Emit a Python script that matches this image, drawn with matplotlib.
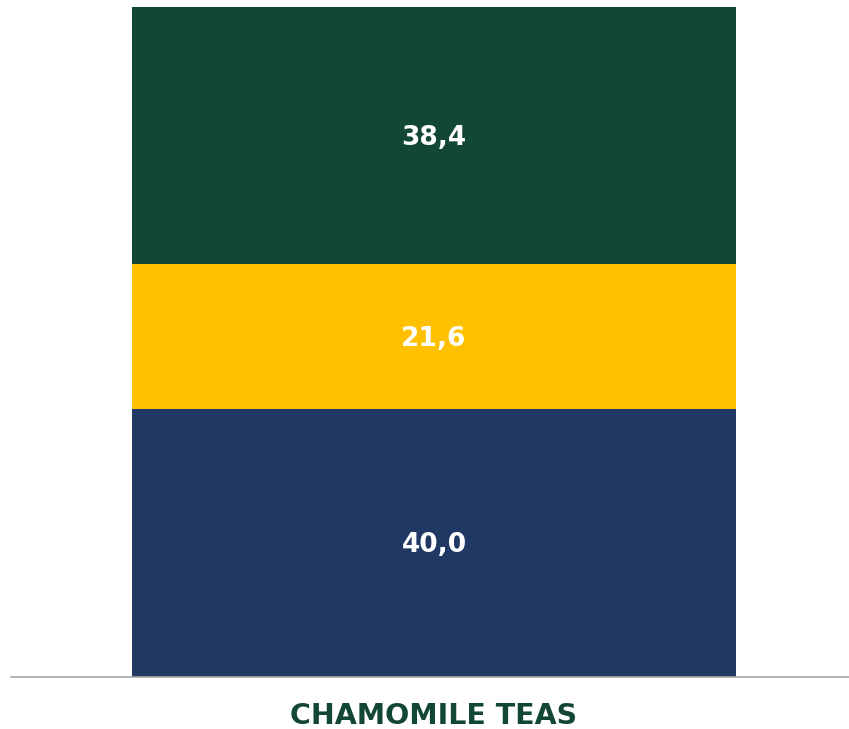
import matplotlib.pyplot as plt

categories = ['CHAMOMILE TEAS']
series_names = ['bottom', 'middle', 'top']
values_bottom = [40.0]
values_middle = [21.6]
values_top = [38.4]
colors = ['#203864', '#FFC000', '#124734']

fig = plt.figure(figsize=(8.49, 7.29), dpi=100)
ax = fig.add_axes([11/849, 52/729, 838/849, 670/729])

base = [0.0] * len(categories)
for vals, col in zip([values_bottom, values_middle, values_top], colors):
    bars = ax.bar(range(len(categories)), vals, bottom=base, width=1.0, color=col, linewidth=0)
    for b, v, s in zip(bars, vals, base):
        ax.text(b.get_x() + b.get_width() / 2, s + v / 2 - 0.3, f'{v:.1f}'.replace('.', ','),
                ha='center', va='center', color='white', fontsize=19,
                fontweight='bold', family='DejaVu Sans')
    base = [s + v for s, v in zip(base, vals)]

ax.set_xlim(-0.7003, 0.6871)
ax.set_ylim(0, 100)
ax.set_xticks(range(len(categories)))
ax.set_xticklabels(categories, fontsize=20.5, fontweight='bold', family='DejaVu Sans', color='#124734')
ax.tick_params(axis='x', length=0, pad=18)
ax.set_yticks([])
for s in ['top', 'left', 'right']:
    ax.spines[s].set_visible(False)
ax.spines['bottom'].set_color('#a6a6a6')
ax.spines['bottom'].set_linewidth(1.2)

fig.savefig('out.png', dpi=100)
